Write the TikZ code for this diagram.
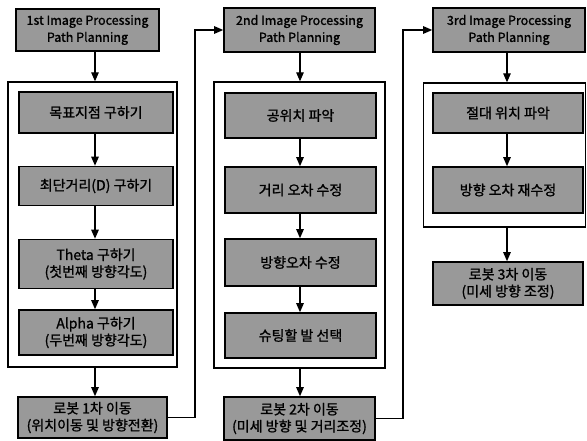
\documentclass[tikz,border=0pt]{standalone}
\usepackage{fontspec}
\setmainfont{Noto Sans CJK KR}[FakeBold=1.2]
\newcommand{\lat}{\fontsize{12.5}{17}\selectfont}
\usetikzlibrary{arrows.meta}
\begin{document}
\begin{tikzpicture}[x=1pt,y=-1pt,
  box/.style={draw=black,line width=1.6pt,fill=black!40,align=center,inner sep=1pt,
    font=\fontsize{14}{17}\selectfont},
  cont/.style={draw=black,line width=1.3pt,fill=white,inner sep=0pt},
  arr/.style={draw=black,line width=1.2pt,-{Triangle[length=9pt,width=7.5pt]}}]
\useasboundingbox (0,0) rectangle (587,441);
% ---------------- column 1 ----------------
\node[box,minimum width=143pt,minimum height=42pt] (t1) at (87.5,30) {\lat 1st Image Processing\\\lat Path Planning};
\node[cont,minimum width=169pt,minimum height=285pt] (c1) at (92.5,224.5) {};
\node[box,minimum width=154pt,minimum height=41pt] (a1) at (96,112.5) {목표지점 구하기};
\node[box,minimum width=154pt,minimum height=39pt] (a2) at (96,186) {최단거리(D) 구하기};
\node[box,minimum width=154pt,minimum height=49pt] (a3) at (96,264) {Theta 구하기\\(첫번째 방향각도)};
\node[box,minimum width=154pt,minimum height=45pt] (a4) at (96,332.5) {Alpha 구하기\\(두번째 방향각도)};
\node[box,minimum width=149pt,minimum height=41pt] (b1) at (92.5,417.5) {로봇 1차 이동\\(위치이동 및 방향전환)};
% ---------------- column 2 ----------------
\node[box,minimum width=151pt,minimum height=44pt] (t2) at (299.5,30) {\lat 2nd Image Processing\\\lat Path Planning};
\node[cont,minimum width=171pt,minimum height=286pt] (c2) at (299.5,225) {};
\node[box,minimum width=151pt,minimum height=45pt] (e1) at (300.5,115.5) {공위치 파악};
\node[box,minimum width=151pt,minimum height=46pt] (e2) at (300.5,190) {거리 오차 수정};
\node[box,minimum width=151pt,minimum height=47pt] (e3) at (300.5,262.5) {방향오차 수정};
\node[box,minimum width=151pt,minimum height=45pt] (e4) at (300.5,335.5) {슈팅할 발 선택};
\node[box,minimum width=151pt,minimum height=43pt] (b2) at (299.5,418.5) {로봇 2차 이동\\(미세 방향 및 거리조정)};
% ---------------- column 3 ----------------
\node[box,minimum width=152pt,minimum height=44pt] (t3) at (509,30) {\lat 3rd Image Processing\\\lat Path Planning};
\node[cont,minimum width=162pt,minimum height=144pt] (c3) at (504.5,155) {};
\node[box,minimum width=150pt,minimum height=40pt] (f1) at (508,113) {절대 위치 파악};
\node[box,minimum width=150pt,minimum height=46pt] (f2) at (508,190) {방향 오차 재수정};
\node[box,minimum width=150pt,minimum height=43pt] (b3) at (508,283.5) {로봇 3차 이동\\(미세 방향 조정)};
% ---------------- connectors ----------------
\coordinate (x1) at (95,0);
\coordinate (x2) at (300,0);
\coordinate (x3) at (507,0);
\coordinate (j1) at (195,0);
\coordinate (j2) at (403,0);
\draw[arr] (t1.south -| x1) -- (c1.north -| x1);
\draw[arr] (a1.south -| x1) -- (a2.north -| x1);
\draw[arr] (a2.south -| x1) -- (a3.north -| x1);
\draw[arr] (a3.south -| x1) -- (a4.north -| x1);
\draw[arr] (c1.south -| x1) -- (b1.north -| x1);
\draw[arr] (t2.south -| x2) -- (c2.north -| x2);
\draw[arr] (e1.south -| x2) -- (e2.north -| x2);
\draw[arr] (e2.south -| x2) -- (e3.north -| x2);
\draw[arr] (e3.south -| x2) -- (e4.north -| x2);
\draw[arr] (c2.south -| x2) -- (b2.north -| x2);
\draw[arr] (t3.south -| x3) -- (c3.north -| x3);
\draw[arr] (f1.south -| x3) -- (f2.north -| x3);
\draw[arr] (c3.south -| x3) -- (b3.north -| x3);
\draw[arr] (b1.east) -- (b1.east -| j1) -- (t2.west -| j1) -- (t2.west);
\draw[arr] (b2.east) -- (b2.east -| j2) -- (t3.west -| j2) -- (t3.west);
\end{tikzpicture}
\end{document}
